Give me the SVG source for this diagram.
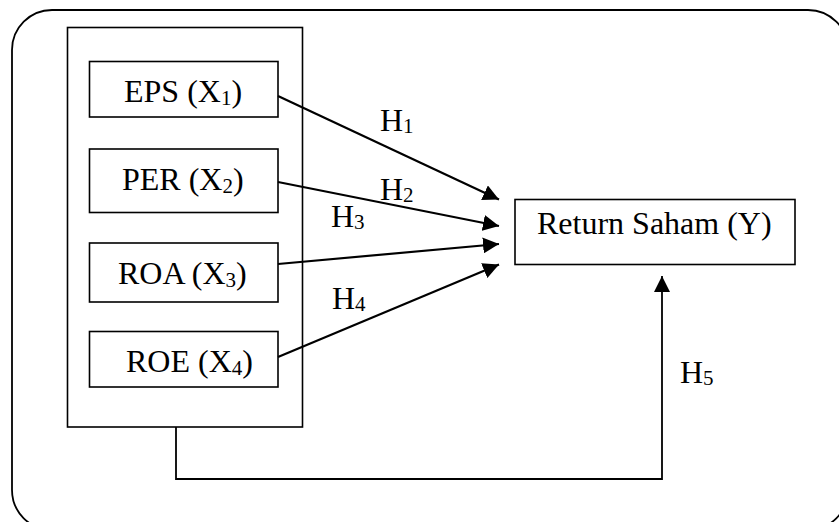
<svg xmlns="http://www.w3.org/2000/svg" width="839" height="522" viewBox="0 0 839 522">
<style>
.box{fill:#fff;stroke:#000;stroke-width:1.6}
.frame{fill:none;stroke:#000;stroke-width:1.8}
.t{font-family:"Liberation Serif","Times New Roman",serif;font-size:32px;fill:#000}
.s{font-size:21px}
.c{fill:none;stroke:#000;stroke-width:2.2}
</style>
<defs>
<marker id="ah" markerUnits="userSpaceOnUse" markerWidth="17" markerHeight="16" refX="16" refY="8" orient="auto">
<path d="M0,0 L16,8 L0,16 z" fill="#000"/>
</marker>
</defs>
<rect x="0" y="0" width="839" height="522" fill="#fff"/>
<rect id="frame" class="frame" x="12" y="10" width="836" height="520" rx="40" ry="40"/>
<g id="group-x">
<rect class="box" x="67.5" y="27.5" width="235" height="399.5"/>
</g>
<g id="eps">
<rect class="box" x="89.5" y="61.5" width="188.5" height="55.5"/>
<text class="t" x="124" y="101.5">EPS (X<tspan class="s" dy="3">1</tspan><tspan dy="-3">)</tspan></text>
</g>
<g id="per">
<rect class="box" x="89.5" y="149" width="188.5" height="63.5"/>
<text class="t" x="122" y="189.5">PER (X<tspan class="s" dy="3">2</tspan><tspan dy="-3">)</tspan></text>
</g>
<g id="roa">
<rect class="box" x="89.5" y="243" width="188.5" height="59"/>
<text class="t" x="118" y="284">ROA (X<tspan class="s" dy="3">3</tspan><tspan dy="-3">)</tspan></text>
</g>
<g id="roe">
<rect class="box" x="89.5" y="331.5" width="188.5" height="55.5"/>
<text class="t" x="126" y="371.5">ROE (X<tspan class="s" dy="3">4</tspan><tspan dy="-3">)</tspan></text>
</g>
<g id="return">
<rect class="box" x="515" y="199.5" width="280" height="65"/>
<text class="t" x="537" y="233.5">Return Saham (Y)</text>
</g>
<g id="connectors">
<line class="c" x1="278" y1="96" x2="499" y2="199.5" marker-end="url(#ah)"/>
<line class="c" x1="278" y1="182" x2="499" y2="226" marker-end="url(#ah)"/>
<line class="c" x1="278" y1="264" x2="499" y2="244" marker-end="url(#ah)"/>
<line class="c" x1="278" y1="357" x2="499" y2="264.5" marker-end="url(#ah)"/>
<polyline class="c" style="stroke-width:1.8" points="176,427 176,479 662,479 662,276" marker-end="url(#ah)"/>
</g>
<g id="labels">
<text class="t" x="380" y="130.5">H<tspan class="s" dy="2">1</tspan></text>
<text class="t" x="380" y="199.5">H<tspan class="s" dy="2">2</tspan></text>
<text class="t" x="331" y="226.5">H<tspan class="s" dy="2">3</tspan></text>
<text class="t" x="332" y="309">H<tspan class="s" dy="2">4</tspan></text>
<text class="t" x="680" y="383">H<tspan class="s" dy="2">5</tspan></text>
</g>
</svg>
